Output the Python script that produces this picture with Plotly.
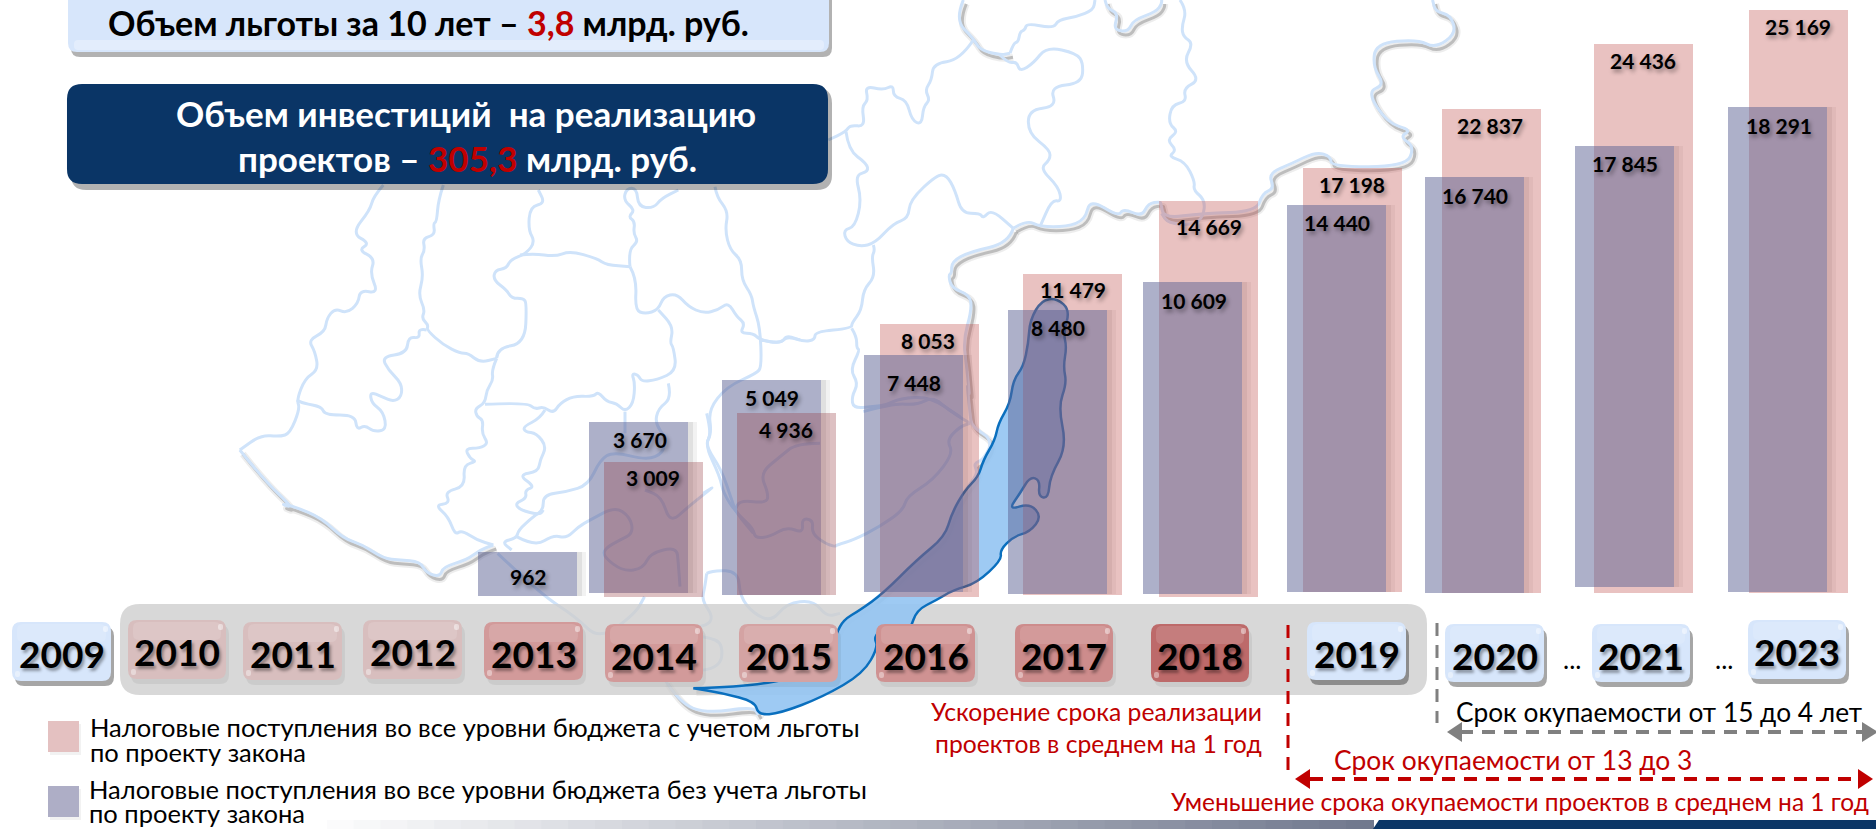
import plotly.graph_objects as go

# ---------- data ----------
YEARS = ["2013", "2014", "2015", "2016", "2017", "2018", "2019", "2020", "2021", "2023"]
# printed values of the two series
PINK_YEARS = ["2014", "2015", "2016", "2017", "2018", "2019", "2020", "2021", "2023"]
PINK_VALUES = [3009, 4936, 8053, 11479, 14669, 17198, 22837, 24436, 25169]
PURPLE_YEARS = YEARS
PURPLE_VALUES = [962, 3670, 5049, 7448, 8480, 10609, 14440, 16740, 17845, 18291]
# the columns are not to scale in the original: their drawn height, read per column
PINK_DRAWN = [131, 180, 269, 319, 392, 425, 484, 549, 583]
PURPLE_DRAWN = [41, 171, 213, 238, 283, 311, 388, 416, 447, 486]

PILL_YEARS = ["2009", "2010", "2011", "2012", "2013", "2014", "2015", "2016", "2017", "2018", "2019", "2020", "2021", "2023"]

# ---------- placement (picture pixels) ----------
W, H = 1876, 829
FONT = "Lato, 'Noto Sans', sans-serif"
BASE_PX = 593
X0_PX, STEP_PX = 528, 139
BAR_W = 99
PINK_LEFT = [604, 737, 880, 1023, 1159, 1303, 1442, 1594, 1749]
PINK_BOTTOM = [597, 595, 597, 595, 597, 592, 593, 593, 593]
PURPLE_LEFT = [478, 589, 722, 864, 1008, 1143, 1287, 1425, 1575, 1728]
PURPLE_BOTTOM = [596, 593, 595, 592, 594, 594, 592, 593, 587, 592]
PINK_LABEL = [(653, 477), (786, 429), (928, 340), (1073, 289), (1209, 226), (1352, 184), (1490, 125), (1643, 60), (1798, 26)]
PURPLE_LABEL = [(528, 576), (640, 439), (772, 397), (914, 382), (1058, 327), (1194, 300), (1337, 222), (1475, 195), (1625, 163), (1779, 125)]

PILL_BOX = [(12, 111, 622, 681), (128, 226, 620, 679), (243, 342, 622, 680), (363, 462, 620, 679),
            (484, 583, 622, 680), (605, 703, 624, 682), (739, 838, 624, 682), (876, 975, 624, 682),
            (1015, 1113, 624, 682), (1151, 1249, 624, 682), (1307, 1406, 622, 680), (1445, 1544, 624, 682),
            (1592, 1690, 624, 682), (1748, 1846, 620, 679)]
PILL_COLOR = ["#d7e6fb", "#d8bebe", "#d8bebe", "#d8bebe", "#d29a9a", "#d29a9a", "#d4a3a3", "#cf9292",
              "#cd8c8c", "#bd6a6a", "#d7e6fb", "#d7e6fb", "#d7e6fb", "#d7e6fb"]

def px(x): return x / W
def py(y): return 1 - y / H

def poly(pts, close=False):
    s = "M" + " L".join(f"{px(x):.5f},{py(y):.5f}" for x, y in pts)
    return s + (" Z" if close else "")

def smooth(pts, close=False):
    s = f"M{px(pts[0][0]):.5f},{py(pts[0][1]):.5f}"
    for a, b in zip(pts[1:-1], pts[2:]):
        mx, my = (a[0] + b[0]) / 2, (a[1] + b[1]) / 2
        s += f" Q{px(a[0]):.5f},{py(a[1]):.5f} {px(mx):.5f},{py(my):.5f}"
    s += f" L{px(pts[-1][0]):.5f},{py(pts[-1][1]):.5f}"
    return s + (" Z" if close else "")

def rrect(x0, x1, y0, y1, r):
    k = r
    return (f"M{px(x0+k):.5f},{py(y0):.5f} L{px(x1-k):.5f},{py(y0):.5f} Q{px(x1):.5f},{py(y0):.5f} {px(x1):.5f},{py(y0+k):.5f} "
            f"L{px(x1):.5f},{py(y1-k):.5f} Q{px(x1):.5f},{py(y1):.5f} {px(x1-k):.5f},{py(y1):.5f} "
            f"L{px(x0+k):.5f},{py(y1):.5f} Q{px(x0):.5f},{py(y1):.5f} {px(x0):.5f},{py(y1-k):.5f} "
            f"L{px(x0):.5f},{py(y0+k):.5f} Q{px(x0):.5f},{py(y0):.5f} {px(x0+k):.5f},{py(y0):.5f} Z")

shapes = []
def add_path(path, fill=None, line=None, width=0, layer="below", dash=None):
    d = dict(type="path", xref="paper", yref="paper", path=path, layer=layer,
             line=dict(width=width, color=line or "rgba(0,0,0,0)"))
    if dash: d["line"]["dash"] = dash
    if fill: d["fillcolor"] = fill
    shapes.append(d)

def z5(p): return [(280 + x / 3, 170 + y / 3) for x, y in p]
def z6(p): return [(760 + x / 3, y / 3) for x, y in p]
def z7(p): return [(640 + x / 3, 280 + y / 3) for x, y in p]
def z2(p): return [(940 + x / 1.675, y / 3) for x, y in p]
def z3(p): return [(x / 1.668, 420 + y / 3) for x, y in p]

# ---------- decorative map ----------
COAST_SW = z3([(400, 90), (440, 180), (490, 265)]) + z5([(0, 1000), (45, 1010), (125, 1045), (190, 1105), (250, 1125), (310, 1165), (360, 1170), (420, 1175), (440, 1210), (480, 1220), (490, 1190), (560, 1170), (600, 1140), (640, 1125)])
COAST_E1 = z6([(760, 685), (800, 660), (840, 680), (920, 680), (975, 660), (990, 597), (1075, 650), (1090, 625), (1145, 650), (1165, 610), (1200, 605)]) + z2([(370, 610), (375, 655), (440, 640), (530, 635), (540, 580), (560, 565), (550, 520), (590, 490), (630, 455), (655, 470), (655, 500), (780, 500), (795, 440), (770, 410), (790, 390), (750, 370), (715, 275), (745, 255), (725, 200), (730, 130), (800, 118), (830, 145), (865, 100), (855, 45), (830, 35), (825, 0)])
COAST_E2 = z6([(760, 685), (745, 730), (630, 755), (575, 785), (575, 820), (565, 825), (575, 865), (630, 885), (635, 930), (610, 1020), (620, 1100), (630, 1200)]) + z7([(980, 300), (990, 400), (995, 440), (1060, 480), (1030, 540), (1000, 550), (1015, 580), (975, 630), (935, 700), (915, 770), (830, 840), (730, 940), (660, 990), (610, 1020), (590, 1060), (560, 1130), (480, 1190), (320, 1220), (160, 1225)])
COAST_TOP = z6([(610, 0), (585, 60), (640, 115), (660, 150), (720, 165), (750, 160)])
LAKE_TOP = z6([(1035, 0), (1040, 25), (1075, 40), (1060, 90), (1105, 95), (1120, 60), (1190, 35), (1205, 10), (1205, 0)])
COAST_W = z5([(310, 45), (280, 80), (270, 120), (215, 190), (270, 220), (235, 240), (285, 265), (270, 310), (295, 370), (240, 360), (235, 400), (200, 430), (165, 415), (140, 445), (135, 485), (85, 510), (105, 545), (115, 600), (75, 625), (50, 690), (60, 715), (30, 790), (0, 800)]) + z3([(435, 45), (400, 90)])
COAST_S = z7([(75, 1200), (120, 1270), (200, 1300), (340, 1280), (355, 1305)])
INNER = [
    z5([(490, 45), (475, 90), (470, 155), (460, 160), (465, 195), (428, 205), (435, 240), (420, 265), (430, 320), (415, 375), (435, 420), (425, 445), (445, 465), (440, 480), (490, 525), (540, 550), (565, 550), (600, 578), (650, 565)]),
    z5([(440, 480), (415, 475), (420, 505), (385, 500), (380, 550), (305, 560), (325, 600), (365, 640), (365, 680), (340, 695), (305, 680), (270, 665), (275, 700), (310, 725), (320, 780), (280, 785), (255, 765), (230, 780), (225, 735), (135, 735), (125, 710), (70, 700), (50, 690)]),
    z5([(650, 565), (650, 535), (735, 520), (740, 400), (730, 385), (695, 385), (680, 360), (640, 330), (645, 300), (680, 295), (690, 270), (740, 250), (765, 215), (745, 180), (750, 110), (795, 100), (775, 60)]),
    z5([(720, 255), (760, 250), (825, 260), (870, 243), (950, 265), (980, 285), (1050, 290)]),
    z5([(650, 565), (635, 600), (640, 630), (620, 660), (615, 700), (585, 715), (590, 740), (610, 750), (605, 790), (625, 820), (600, 835), (555, 835), (570, 865), (590, 875), (550, 885), (555, 950), (495, 965), (510, 1000), (465, 1005), (505, 1040), (525, 1095), (545, 1080), (590, 1110), (640, 1125)]),
    z5([(615, 703), (740, 697), (765, 718), (790, 710), (820, 730), (840, 700), (880, 678), (940, 680), (955, 665), (980, 695), (1010, 700), (1035, 725), (1060, 700), (1065, 640), (1055, 610), (1075, 615), (1085, 635), (1130, 630), (1190, 603), (1180, 530), (1170, 520), (1180, 470), (1135, 420)]),
    z5([(1050, 290), (1070, 325), (1065, 420), (1095, 432), (1135, 420), (1150, 380), (1190, 370), (1225, 410), (1270, 430), (1315, 420), (1345, 397), (1370, 440), (1395, 460), (1380, 490), (1420, 490), (1440, 510), (1500, 520), (1520, 500), (1560, 510)]),
    z5([(1050, 290), (1045, 240), (1075, 215), (1060, 190), (1065, 155), (1045, 140), (1065, 120), (1030, 90), (1040, 55), (1070, 55), (1075, 110), (1120, 115), (1145, 85), (1195, 60)]),
    z5([(1305, 50), (1310, 80), (1345, 125), (1335, 180), (1350, 240), (1385, 270), (1385, 330), (1415, 375), (1420, 410), (1440, 470), (1445, 590), (1430, 610), (1340, 650), (1285, 720), (1295, 790), (1275, 825), (1325, 900), (1355, 990), (1370, 1030), (1420, 1090)]),
    z5([(1165, 640), (1175, 685), (1135, 715), (1125, 760), (1155, 800), (1150, 850), (1100, 870), (1000, 845), (960, 870), (925, 945), (860, 965), (790, 975), (790, 1020), (760, 1040), (715, 1080), (710, 1105), (665, 1115), (695, 1140)]),
    z5([(1035, 725), (1035, 790)]),
    z5([(795, 720), (780, 745), (730, 770), (735, 785), (770, 790), (800, 830), (780, 870), (775, 905), (715, 915), (765, 950), (735, 960), (740, 985), (705, 1000), (720, 1020), (780, 1035), (790, 1020)]),
    z5([(710, 1100), (765, 1130), (820, 1095), (860, 1105), (895, 1070), (930, 1050), (1005, 1010), (1050, 1040), (1060, 1090), (1020, 1110), (975, 1135), (970, 1160), (1030, 1205), (1090, 1195), (1110, 1150), (1190, 1130), (1195, 1180), (1200, 1250)]),
    z5([(1270, 970), (1320, 935), (1225, 1010), (1170, 1060), (1145, 980), (1095, 960)]),
    z7([(200, 400), (215, 460), (195, 495), (240, 590), (250, 640), (290, 700), (340, 745), (345, 775), (390, 770), (440, 740), (490, 760), (485, 715), (520, 720), (515, 760), (555, 790), (585, 800), (590, 795), (640, 780), (720, 740), (790, 690), (800, 650), (880, 600), (940, 520), (920, 480), (960, 440), (990, 430)]),
    z7([(670, 395), (760, 370), (830, 375), (880, 350), (925, 390), (990, 430)]),
    z7([(540, 490), (470, 490), (420, 530), (360, 580), (385, 640), (380, 670), (300, 660), (285, 690)]),
    z7([(200, 880), (220, 870), (295, 875), (300, 950), (340, 1000), (395, 1025), (440, 970), (520, 960), (560, 1010), (600, 1000)]),
    z7([(200, 880), (195, 920), (185, 960), (220, 1010), (200, 1040), (75, 1050), (90, 1060), (200, 1070), (250, 1090), (240, 1170), (90, 1175)]),
    z3([(830, 400), (900, 520), (960, 590), (1000, 660), (1060, 580), (1075, 530)]),
    z6([(640, 120), (600, 180), (520, 190), (515, 240), (495, 270), (510, 300), (490, 320), (485, 375), (455, 360), (440, 300), (400, 290), (400, 255), (370, 270), (315, 258), (325, 300), (305, 320), (315, 380), (270, 375), (258, 395), (205, 420)]),
    z6([(258, 395), (265, 450), (320, 490), (325, 515), (285, 525), (305, 600), (285, 680), (250, 690), (260, 725), (300, 740), (345, 730), (400, 670), (445, 655), (450, 600), (530, 525), (560, 525), (585, 570), (605, 640), (660, 640), (670, 655), (695, 628), (760, 685)]),
    z6([(340, 735), (345, 750), (335, 770), (345, 830), (310, 870), (305, 930), (275, 970), (275, 985), (165, 995), (165, 1020), (130, 1025), (80, 1005), (65, 1030), (0, 1020)]),
    z6([(275, 985), (290, 1010), (290, 1045), (300, 1050), (270, 1110), (295, 1150), (275, 1190), (280, 1225), (340, 1220), (380, 1215), (420, 1195), (510, 1190), (600, 1250)]),
    z6([(720, 165), (745, 190), (770, 185), (780, 215), (820, 190), (860, 140), (950, 160), (970, 190), (965, 250), (870, 260), (890, 320), (805, 330), (805, 400), (870, 450), (870, 480), (840, 505), (895, 560), (905, 605), (875, 600), (840, 680)]),
    z6([(750, 160), (760, 130), (775, 125), (780, 95), (795, 90), (800, 70), (880, 85), (895, 60), (950, 50), (1000, 30), (1005, 0)]),
    z6([(1260, 0), (1280, 30), (1265, 80), (1270, 110), (1300, 130), (1270, 185), (1320, 240), (1270, 265), (1280, 305), (1235, 315), (1225, 370), (1255, 395), (1220, 420), (1250, 450), (1225, 470), (1275, 485), (1305, 545), (1300, 570), (1335, 600), (1330, 650), (1300, 675), (1225, 670), (1205, 640)]),
]
BAIKAL = z7([(160, 1225), (320, 1220), (480, 1190), (560, 1130), (590, 1060), (610, 1020), (660, 990), (730, 940), (830, 840), (915, 770), (935, 700), (975, 630), (1015, 590), (1030, 540), (1065, 480), (1075, 430), (1110, 370), (1120, 300), (1150, 260), (1165, 190), (1170, 120), (1205, 60), (1250, 55), (1290, 90), (1270, 160), (1280, 200), (1270, 260), (1280, 310), (1255, 380), (1280, 500), (1230, 590), (1225, 655), (1195, 650), (1200, 600), (1170, 590), (1140, 640), (1105, 690), (1170, 670), (1205, 710), (1170, 755), (1120, 770), (1080, 810), (1085, 840), (1010, 910), (940, 930), (890, 960), (830, 990), (810, 1050), (790, 1055), (745, 1030), (700, 1070), (715, 1100), (670, 1180), (550, 1250), (420, 1300), (355, 1305), (345, 1265), (250, 1240), (160, 1225)])

MAP_BLUE = "#cfe3fa"
for seg in [COAST_SW, COAST_E1, COAST_E2, COAST_TOP, LAKE_TOP, COAST_S]:
    off = [(x + 3, y + 4) for x, y in seg]
    add_path(smooth(off), line="rgba(0,0,0,0.07)", width=7)
    add_path(smooth(off), line="rgba(0,0,0,0.20)", width=3)
for seg in INNER + [COAST_SW, COAST_E1, COAST_E2, COAST_TOP, LAKE_TOP, COAST_S, COAST_W]:
    add_path(smooth(seg), line=MAP_BLUE, width=3)

# ---------- timeline band, pills, boxes ----------
add_path(rrect(120, 1427, 604, 695, 20), fill="rgba(205,205,205,0.78)")
add_path(smooth(BAIKAL, True), fill="rgba(150,198,242,0.92)", line="#0a6fbe", width=2.5)
for (x0, x1, y0, y1), c, lab in zip(PILL_BOX, PILL_COLOR, PILL_YEARS):
    blue = c == "#d7e6fb"
    add_path(rrect(x0 + 3, x1 + 3, y0 + 5, y1 + 5, 9), fill="rgba(0,0,0,0.35)" if blue else "rgba(0,0,0,0.06)")
    add_path(rrect(x0, x1, y0, y1, 9), fill=c)
    add_path(rrect(x0 + 5, x1 - 5, y0 + 2, y0 + 20, 6), fill="rgba(255,255,255,0.13)")
    add_path(rrect(x1 - 8, x1 - 3, y0 + 4, y0 + 10, 2), fill="rgba(255,255,255,0.45)")
    add_path(rrect(x0 + 3, x0 + 8, y1 - 10, y1 - 4, 2), fill="rgba(255,255,255,0.4)")

add_path(rrect(71, 832, -20, 57, 9), fill="rgba(0,0,0,0.3)")
add_path(rrect(68, 829, -20, 52, 9), fill="#d7e6fb")
add_path(rrect(74, 824, 40, 50, 4), fill="rgba(255,255,255,0.3)")
add_path(rrect(71, 832, 88, 190, 15), fill="rgba(0,0,0,0.3)")
add_path(rrect(67, 828, 84, 184, 15), fill="#0a3566")

# ---------- legend swatches ----------
add_path(rrect(50, 81, 724, 755, 0.1), fill="rgba(0,0,0,0.05)")
add_path(rrect(48, 79, 721, 752, 0.1), fill="#e4c1c1")
add_path(rrect(50, 81, 789, 820, 0.1), fill="rgba(0,0,0,0.05)")
add_path(rrect(48, 79, 786, 817, 0.1), fill="#aeaec6")

# ---------- bottom strip ----------
STRIP = 40
for i in range(STRIP):
    t = i / STRIP
    x0 = 300 + t * (1373 - 300)
    x1 = 300 + (i + 1) * (1373 - 300) / STRIP + 1
    v = [int(255 + t * (c - 255)) for c in (110, 118, 140)]
    add_path(poly([(x0, 820), (x1, 820), (x1, 829), (x0, 829)], True), fill=f"rgb({v[0]},{v[1]},{v[2]})")
add_path(poly([(1379, 820), (1876, 820), (1876, 829), (1373, 829)], True), fill="#0a3566")

# ---------- dashed guides and arrows ----------
RED, GREY = "#c00000", "#808080"
add_path(poly([(1288, 625), (1288, 773)]), line=RED, width=3, dash="13px,9px")
add_path(poly([(1437, 623), (1437, 723)]), line=GREY, width=3, dash="13px,9px")
add_path(poly([(1460, 732), (1862, 732)]), line=GREY, width=4, dash="13px,9px")
add_path(poly([(1447, 732), (1462, 722), (1462, 742)], True), fill=GREY)
add_path(poly([(1878, 732), (1862, 722), (1862, 742)], True), fill=GREY)
add_path(poly([(1310, 779), (1858, 779)]), line=RED, width=4, dash="13px,9px")
add_path(poly([(1295, 779), (1310, 769), (1310, 789)], True), fill=RED)
add_path(poly([(1873, 779), (1858, 769), (1858, 789)], True), fill=RED)

# ---------- columns ----------
def cat_center(year):
    return X0_PX + YEARS.index(year) * STEP_PX

def offsets(years, lefts):
    return [(l - cat_center(y)) / STEP_PX for y, l in zip(years, lefts)]

def bases(bottoms):
    return [BASE_PX - b for b in bottoms]

def heights(drawn, bottoms):
    return [d - b for d, b in zip(drawn, bases(bottoms))]

PINK_OVER = {"2014", "2015"}
late = [i for i, y in enumerate(PINK_YEARS) if y not in PINK_OVER]
early = [i for i, y in enumerate(PINK_YEARS) if y in PINK_OVER]
pick = lambda seq, idx: [seq[i] for i in idx]
pink_off, pink_h, pink_b = offsets(PINK_YEARS, PINK_LEFT), heights(PINK_DRAWN, PINK_BOTTOM), bases(PINK_BOTTOM)
pur_off, pur_h, pur_b = offsets(PURPLE_YEARS, PURPLE_LEFT), heights(PURPLE_DRAWN, PURPLE_BOTTOM), bases(PURPLE_BOTTOM)
unit = BAR_W / STEP_PX

fig = go.Figure()
for w_px, a in ((9, 0.05), (5, 0.07)):
    fig.add_bar(x=PURPLE_YEARS, y=pur_h, base=pur_b, width=w_px / STEP_PX,
                offset=[o + unit for o in pur_off], marker=dict(color=f"rgba(0,0,0,{a})", line_width=0),
                hoverinfo="skip", showlegend=False)
fig.add_bar(x=pick(PINK_YEARS, late), y=pick(pink_h, late), base=pick(pink_b, late), width=unit,
            offset=pick(pink_off, late), marker=dict(color="rgba(192,80,77,0.35)", line_width=0),
            name="Налоговые поступления с учетом льготы", showlegend=False)
fig.add_bar(x=PURPLE_YEARS, y=pur_h, base=pur_b, width=unit, offset=pur_off,
            marker=dict(color="rgba(91,98,148,0.5)", line_width=0),
            name="Налоговые поступления без учета льготы", showlegend=False)
fig.add_bar(x=pick(PINK_YEARS, early), y=pick(pink_h, early), base=pick(pink_b, early), width=unit,
            offset=pick(pink_off, early), marker=dict(color="rgba(150,60,65,0.32)", line_width=0),
            name="Налоговые поступления с учетом льготы", showlegend=False)

# ---------- texts ----------
ann = []
NUM_SHADOW = "2px 3px 4px rgba(0,0,0,0.4)"
def fmt(v):
    return f"{v:,}".replace(",", " ")

def data_label(year, value, drawn, spot):
    ann.append(dict(x=YEARS.index(year), y=drawn, xref="x", yref="y", text=fmt(value), showarrow=False,
                    xanchor="center", yanchor="middle", borderpad=0,
                    xshift=spot[0] - cat_center(year), yshift=(BASE_PX - spot[1]) - drawn,
                    font=dict(family=FONT, size=21, color="black", weight=700, shadow=NUM_SHADOW)))

for y, v, d, s in zip(PINK_YEARS, PINK_VALUES, PINK_DRAWN, PINK_LABEL):
    data_label(y, v, d, s)
for y, v, d, s in zip(PURPLE_YEARS, PURPLE_VALUES, PURPLE_DRAWN, PURPLE_LABEL):
    data_label(y, v, d, s)

def label(text, x, y, size, color="black", anchor="center", weight=400, shadow=None):
    f = dict(family=FONT, size=size, color=color, weight=weight)
    if shadow: f["shadow"] = shadow
    ann.append(dict(x=px(x), y=py(y), xref="paper", yref="paper", text=text, showarrow=False,
                    xanchor=anchor, yanchor="middle", borderpad=0, font=f))

for (x0, x1, y0, y1), lab in zip(PILL_BOX, PILL_YEARS):
    label(lab, (x0 + x1) / 2, (y0 + y1) / 2 + 2, 37, weight=700, shadow="2px 3px 3px rgba(0,0,0,0.35)")
label("...", 1572, 659, 26)
label("...", 1724, 659, 26)

R = '<span style="color:#c00000">'
label(f"Объем льготы за 10 лет – {R}3,8</span> млрд. руб.", 428, 23, 34, weight=700)
label("Объем инвестиций  на реализацию", 466, 113, 35, color="white", weight=700)
label(f"проектов – {R}305,3</span> млрд. руб.", 467, 158, 35, color="white", weight=700)

label("Налоговые поступления во все уровни бюджета с учетом льготы", 89, 727, 25.5, anchor="left")
label("по проекту закона", 89, 752, 25.5, anchor="left")
label("Налоговые поступления во все уровни бюджета без учета льготы", 88, 789, 25.5, anchor="left")
label("по проекту закона", 88, 813, 25.5, anchor="left")

label("Ускорение срока реализации", 1263, 711, 24.7, color=RED, anchor="right")
label("проектов в среднем на 1 год", 1263, 743, 24.7, color=RED, anchor="right")
label("Срок окупаемости от 15 до 4 лет", 1659, 712, 26.3)
label("Срок окупаемости от 13 до 3", 1513, 760, 26.4, color=RED)
label("Уменьшение срока окупаемости проектов в среднем на 1 год", 1520, 801, 24.5, color=RED)

fig.update_layout(
    width=W, height=H, margin=dict(l=0, r=0, t=0, b=0, pad=0), autosize=False,
    paper_bgcolor="white", plot_bgcolor="rgba(0,0,0,0)", barmode="overlay", showlegend=False,
    xaxis=dict(type="category", categoryorder="array", categoryarray=YEARS, visible=False,
               range=[-X0_PX / STEP_PX, (W - X0_PX) / STEP_PX], fixedrange=True),
    yaxis=dict(visible=False, range=[BASE_PX - H, BASE_PX], fixedrange=True),
    shapes=shapes, annotations=ann,
)
fig.write_html("out.html", config=dict(displayModeBar=False),
               post_script="document.body.style.margin='0';document.body.style.overflow='hidden';")
